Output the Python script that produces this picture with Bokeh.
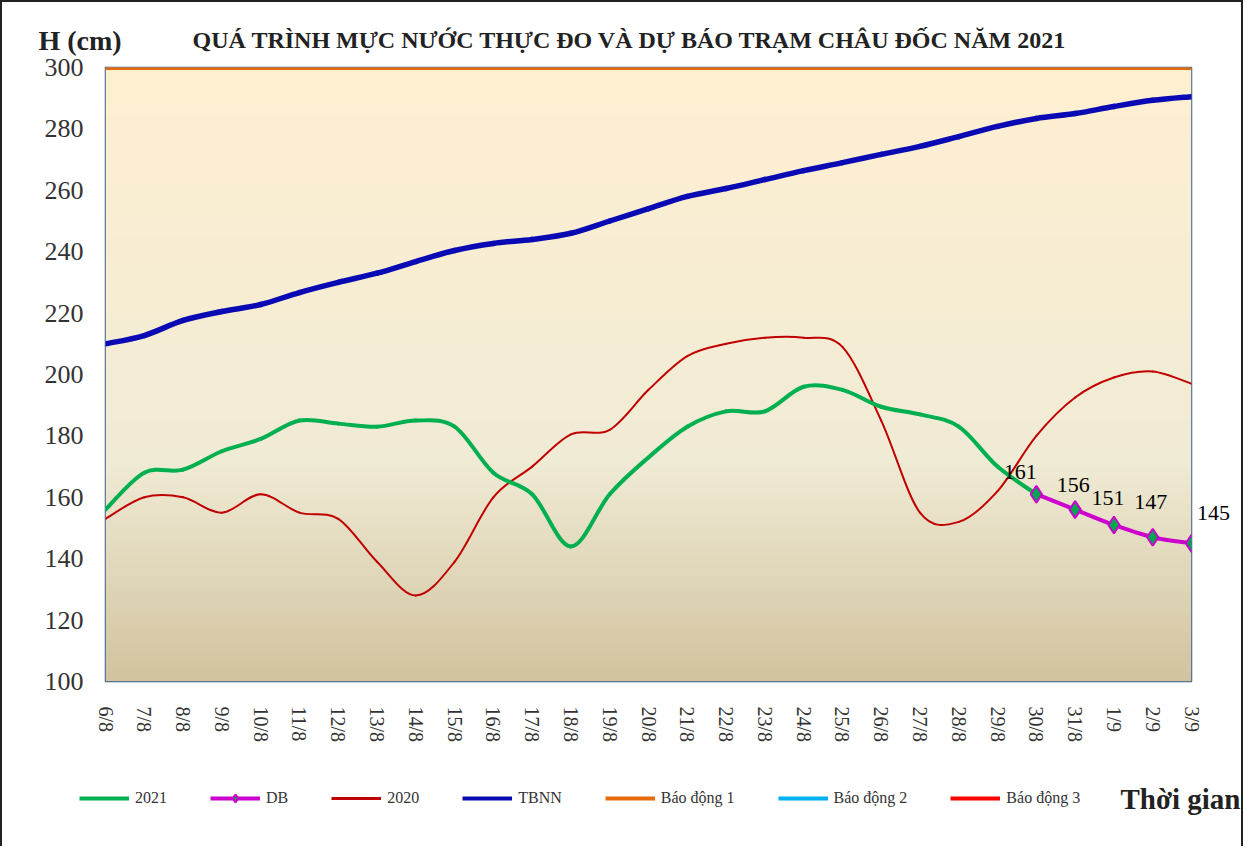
import numpy as np
from bokeh.plotting import figure
from bokeh.layouts import column, row
from bokeh.models import Range1d, FixedTicker, Legend, LegendItem, ColumnDataSource, Title
from bokeh.core.properties import value
from bokeh.embed import file_html
from bokeh.resources import INLINE

# ---------------- data ----------------
dates = ["6/8", "7/8", "8/8", "9/8", "10/8", "11/8", "12/8", "13/8", "14/8", "15/8",
         "16/8", "17/8", "18/8", "19/8", "20/8", "21/8", "22/8", "23/8", "24/8", "25/8",
         "26/8", "27/8", "28/8", "29/8", "30/8", "31/8", "1/9", "2/9", "3/9"]

h2021 = [156, 168, 169, 175, 179, 185, 184, 183, 185, 183, 168, 161, 144, 161, 173,
         183, 188, 188, 196, 195, 189.5, 187, 183, 170, 161]          # 6/8 .. 30/8
db = [161, 156, 151, 147, 145]                                      # 30/8 .. 3/9
h2020 = [153, 160, 160, 155, 161, 155, 153, 139, 128, 139, 160, 170, 180.5, 182, 195,
         206, 210, 212, 212, 209, 185, 155, 152, 162, 180, 192.5, 199, 201, 197]
tbnn = [210, 212.7, 217.6, 220.5, 222.8, 226.7, 230, 233, 236.8, 240.4, 242.7, 244, 246,
        250, 254, 258, 260.6, 263.5, 266.4, 269, 271.7, 274.3, 277.5, 280.8, 283.4, 285,
        287.3, 289.3, 290.5]
bao_dong_1 = 300
bao_dong_2 = 400
bao_dong_3 = 450
series_names = ["2021", "DB", "2020", "TBNN", "Báo động 1", "Báo động 2", "Báo động 3"]

FONT = "Liberation Serif"
C_2021, C_DB, C_2020, C_TBNN = "#00B050", "#CC00CC", "#C00000", "#0A0AB4"
C_BD1, C_BD2, C_BD3 = "#E46C0A", "#00B0F0", "#FF0000"
C_MARK = "#00A550"

# ---------------- main figure ----------------
p = figure(width=1243, height=756, output_backend="svg", toolbar_location=None,
           x_range=Range1d(0, len(dates) - 1), y_range=Range1d(100, 300),
           min_border_left=103, min_border_right=54, min_border_top=65, min_border_bottom=77)
p.styles = {"border-left": "2px solid #222", "border-top": "2px solid #222",
            "border-right": "2px solid #222"}
p.background_fill_color = None
p.border_fill_color = "white"
p.outline_line_color = "#385D8A"
p.outline_line_width = 1.5
p.xgrid.visible = False
p.ygrid.visible = False

# gradient background (Parchment-like)
stops = [(0.0, (255, 239, 209)), (0.64, (240, 235, 213)), (1.0, (209, 195, 159))]
N = 400
img = np.empty((N, 1), dtype=np.uint32)
view = img.view(dtype=np.uint8).reshape((N, 1, 4))
for r in range(N):
    t = 1 - r / (N - 1)
    for k in range(len(stops) - 1):
        if stops[k][0] <= t <= stops[k + 1][0]:
            a, ca = stops[k]
            b, cb = stops[k + 1]
            f = (t - a) / (b - a)
            c = [ca[j] + (cb[j] - ca[j]) * f for j in range(3)]
            break
    view[r, 0, 0] = int(round(c[0]))
    view[r, 0, 1] = int(round(c[1]))
    view[r, 0, 2] = int(round(c[2]))
    view[r, 0, 3] = 255
x0r, x1r = p.x_range.start, p.x_range.end
y0r, y1r = p.y_range.start, p.y_range.end
p.image_rgba(image=[img], x=x0r, y=y0r, dw=x1r - x0r, dh=y1r - y0r, level="image")


def smooth_src(xs, ys, t=1 / 6):
    n = len(xs)
    d = dict(x0=[], y0=[], x1=[], y1=[], cx0=[], cy0=[], cx1=[], cy1=[])
    for i in range(n - 1):
        ip = i - 1 if i > 0 else i
        inn = i + 2 if i + 2 < n else i + 1
        d["x0"].append(xs[i]); d["y0"].append(ys[i])
        d["x1"].append(xs[i + 1]); d["y1"].append(ys[i + 1])
        d["cx0"].append(xs[i] + (xs[i + 1] - xs[ip]) * t)
        d["cy0"].append(ys[i] + (ys[i + 1] - ys[ip]) * t)
        d["cx1"].append(xs[i + 1] - (xs[inn] - xs[i]) * t)
        d["cy1"].append(ys[i + 1] - (ys[inn] - ys[i]) * t)
    return ColumnDataSource(d)


def bez(xs, ys, color, width):
    return p.bezier(x0="x0", y0="y0", x1="x1", y1="y1", cx0="cx0", cy0="cy0",
                    cx1="cx1", cy1="cy1", source=smooth_src(xs, ys),
                    line_color=color, line_width=width, line_cap="round")


idx_all = list(range(len(dates)))
idx_2021 = list(range(len(h2021)))
idx_db = list(range(len(h2021) - 1, len(h2021) - 1 + len(db)))

p.line(idx_all, [bao_dong_3] * len(dates), line_color=C_BD3, line_width=3)
p.line(idx_all, [bao_dong_2] * len(dates), line_color=C_BD2, line_width=3)
p.line(idx_all, [bao_dong_1] * len(dates), line_color=C_BD1, line_width=5)
bez(idx_all, tbnn, C_TBNN, 5.5)
bez(idx_all, h2020, C_2020, 2)
bez(idx_2021, h2021, C_2021, 4)
bez(idx_db, db, C_DB, 4)
p.scatter(idx_db, db, marker="diamond", size=17, fill_color=C_MARK,
          line_color=C_DB, line_width=2)

lab_src = ColumnDataSource(dict(x=idx_db, y=db, t=[str(v) for v in db],
                                xo=[-16, -2, -6, -2, 22], yo=[-22, -25, -27, -35, -30]))
p.text(x="x", y="y", text="t", x_offset="xo", y_offset="yo", source=lab_src,
       text_font=value(FONT), text_font_size="22px", text_align="center",
       text_baseline="middle", text_color="black", level="overlay")

# axes
p.xaxis.ticker = FixedTicker(ticks=idx_all)
p.xaxis.major_label_overrides = {i: d for i, d in enumerate(dates)}
p.xaxis.major_label_orientation = "vertical"
p.xaxis.major_label_text_font = FONT
p.xaxis.major_label_text_font_size = "20px"
p.xaxis.major_label_text_color = "#333333"
p.xaxis.major_label_standoff = 25
p.yaxis.ticker = FixedTicker(ticks=list(range(100, 301, 20)))
p.yaxis.major_label_text_font = FONT
p.yaxis.major_label_text_font_size = "26px"
p.yaxis.major_label_text_color = "#333333"
p.yaxis.major_label_standoff = 22
for ax in (p.xaxis[0], p.yaxis[0]):
    ax.axis_line_color = None
    ax.major_tick_line_color = None
    ax.minor_tick_line_color = None
    ax.major_tick_out = 0
    ax.major_tick_in = 0
    ax.minor_tick_out = 0
    ax.minor_tick_in = 0

# title and y caption
p.title = Title(text="QUÁ TRÌNH MỰC NƯỚC THỰC ĐO VÀ DỰ BÁO TRẠM CHÂU ĐỐC NĂM 2021",
                align="left", offset=87, text_font=FONT, text_font_style="bold",
                text_font_size="24px", text_color="#222222", standoff=30)
p.text(x=[x0r], y=[y1r], text=["H (cm)"], x_offset=-67, y_offset=-27,
       text_font=value(FONT), text_font_style="bold", text_font_size="28px",
       text_align="left", text_baseline="middle", text_color="#222222", level="overlay")

# ---------------- legend strip ----------------
q = figure(width=1243, height=90, output_backend="svg", toolbar_location=None,
           x_range=Range1d(0, 1), y_range=Range1d(0, 1), x_axis_type=None, y_axis_type=None,
           min_border=0)
q.styles = {"border-left": "2px solid #222", "border-right": "2px solid #222"}
q.outline_line_color = None
q.background_fill_color = "white"
q.border_fill_color = "white"

key_styles = [(C_2021, 4), (C_DB, 4), (C_2020, 3), (C_TBNN, 4),
              (C_BD1, 4), (C_BD2, 4), (C_BD3, 4)]
nan = float("nan")
items = []
for name, (col, w) in zip(series_names, key_styles):
    rs = [q.line(x=[nan], y=[nan], line_color=col, line_width=w)]
    if name == "DB":
        rs.append(q.scatter(x=[nan], y=[nan], marker="diamond", size=12, fill_color=C_MARK,
                            line_color=C_DB, line_width=2))
    items.append(LegendItem(label=name, renderers=rs))

legend = Legend(items=items, orientation="horizontal", location=(77, 38),
                glyph_width=50, glyph_height=20, label_standoff=6, spacing=43,
                padding=0, margin=0, label_text_font=FONT, label_text_font_size="16px",
                label_text_color="#333333", border_line_color=None,
                background_fill_alpha=0)
q.add_layout(legend, "center")
q.text(x=[q.x_range.end], y=[q.y_range.start], text=["Thời gian"], x_offset=-5, y_offset=-48,
       text_font=value(FONT), text_font_style="bold", text_font_size="29px",
       text_align="right", text_baseline="middle", text_color="#222222", level="overlay")

layout = column(p, row(q), spacing=0)
open("out.html", "w").write(file_html(layout, INLINE))
